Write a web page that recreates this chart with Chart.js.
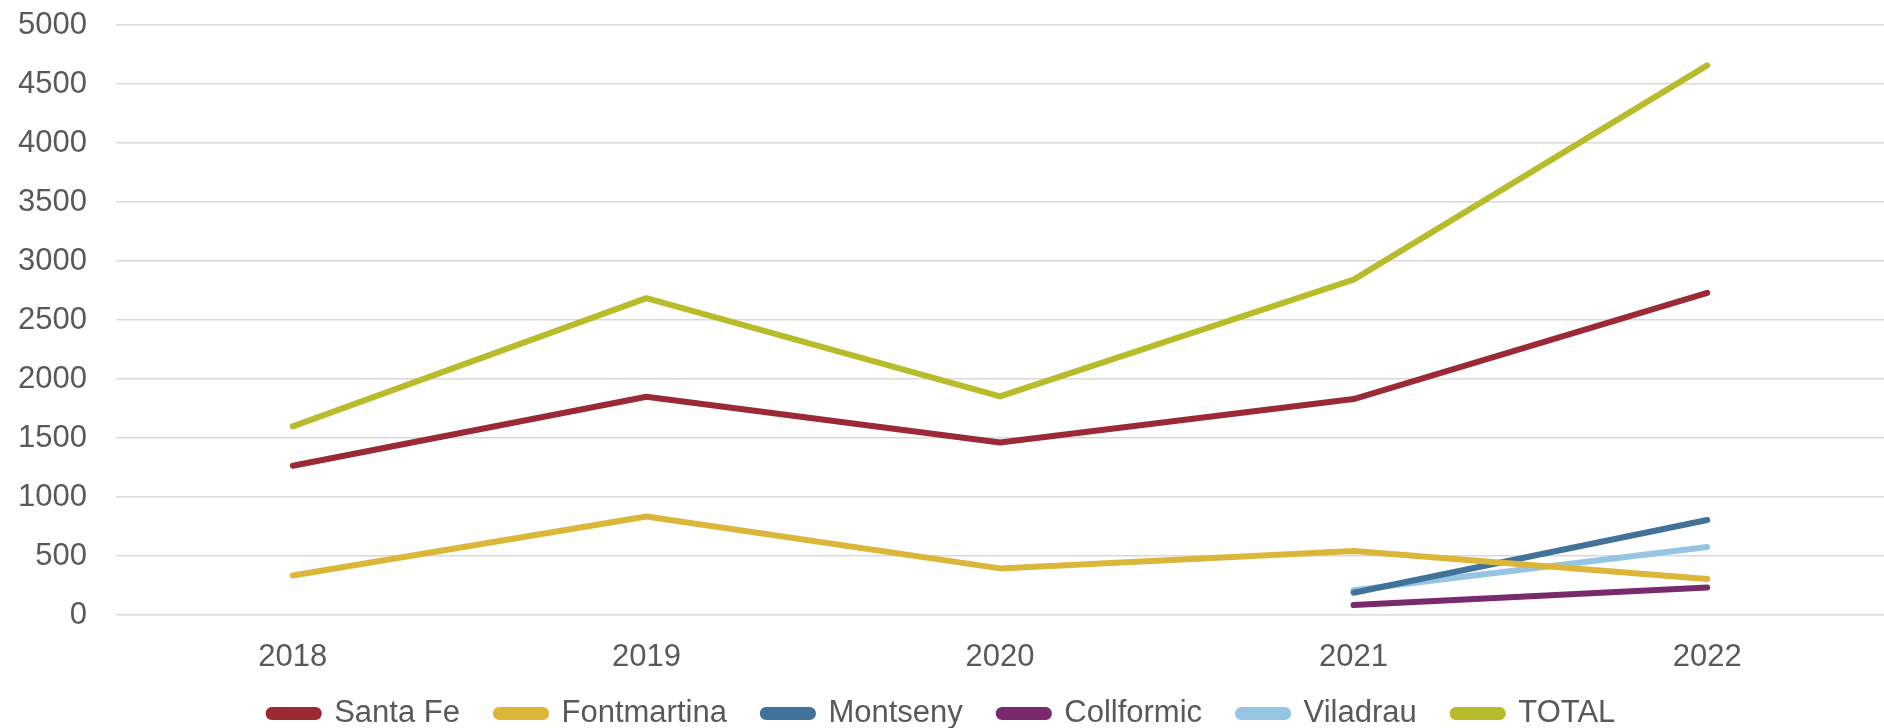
<!DOCTYPE html>
<html>
<head>
<meta charset="utf-8">
<script src="https://cdn.jsdelivr.net/npm/chart.js@4"></script>
<style>
  html, body { margin: 0; padding: 0; background: #fff; }
  #wrap { width: 1884px; height: 728px; }
</style>
</head>
<body>
<div id="wrap"><canvas id="grafica"></canvas></div>
<script>
const anios = ["2018", "2019", "2020", "2021", "2022"];
const santaFe = [1265, 1850, 1462, 1830, 2730];
const fontmartina = [335, 835, 395, 542, 305];
const montseny = [null, null, null, 189, 805];
const collformic = [null, null, null, 84, 234];
const viladrau = [null, null, null, 209, 577];
const total = [1598, 2685, 1852, 2842, 4658];

const colores = ["#9B2A36", "#DCB639", "#41739A", "#782A6B", "#95C5E3", "#B8BB2A"];
const nombres = ["Santa Fe", "Fontmartina", "Montseny", "Collformic", "Viladrau", "TOTAL"];
const series = [santaFe, fontmartina, montseny, collformic, viladrau, total];

const texto = "#595959";
const fuente = "'Liberation Sans', Arial, sans-serif";

const ctx = document.getElementById("grafica").getContext("2d");
new Chart(ctx, {
    type: "line",
    data: {
        labels: anios,
        datasets: series.map((s, i) => ({
            label: nombres[i],
            data: s,
            borderColor: colores[i],
            backgroundColor: colores[i],
            borderWidth: 6,
            borderCapStyle: "round",
            borderJoinStyle: "round",
            pointRadius: 0,
            tension: 0,
            spanGaps: false
        }))
    },
    options: {
        responsive: true,
        maintainAspectRatio: false,
        animation: false,
        layout: { padding: { top: 25, right: 0, left: 0, bottom: -11 } },
        plugins: {
            tooltip: { enabled: false },
            legend: {
                position: "bottom",
                labels: {
                    color: texto,
                    font: { family: fuente, size: 31 },
                    boxWidth: 50,
                    boxHeight: 7,
                    useBorderRadius: true,
                    borderRadius: 3,
                    padding: 36
                }
            }
        },
        scales: {
            x: {
                offset: true,
                grid: { display: false },
                border: { display: false },
                ticks: { color: texto, font: { family: fuente, size: 31 }, padding: 16 },
                afterFit: s => {
                    s.height = 47;
                    // the labels sit lower than the axis box, don't clip them
                    s._computeLabelArea = () => undefined;
                }
            },
            y: {
                min: 0,
                max: 5000,
                ticks: {
                    stepSize: 500,
                    color: texto,
                    font: { family: fuente, size: 31 },
                    padding: 29,
                    callback: v => String(v)
                },
                grid: { color: "#D9D9D9", lineWidth: 1.5, drawTicks: false },
                border: { display: false },
                afterFit: s => { s.width = 116; s.paddingTop = 0; s.paddingBottom = 0; }
            }
        }
    }
});
</script>
</body>
</html>
